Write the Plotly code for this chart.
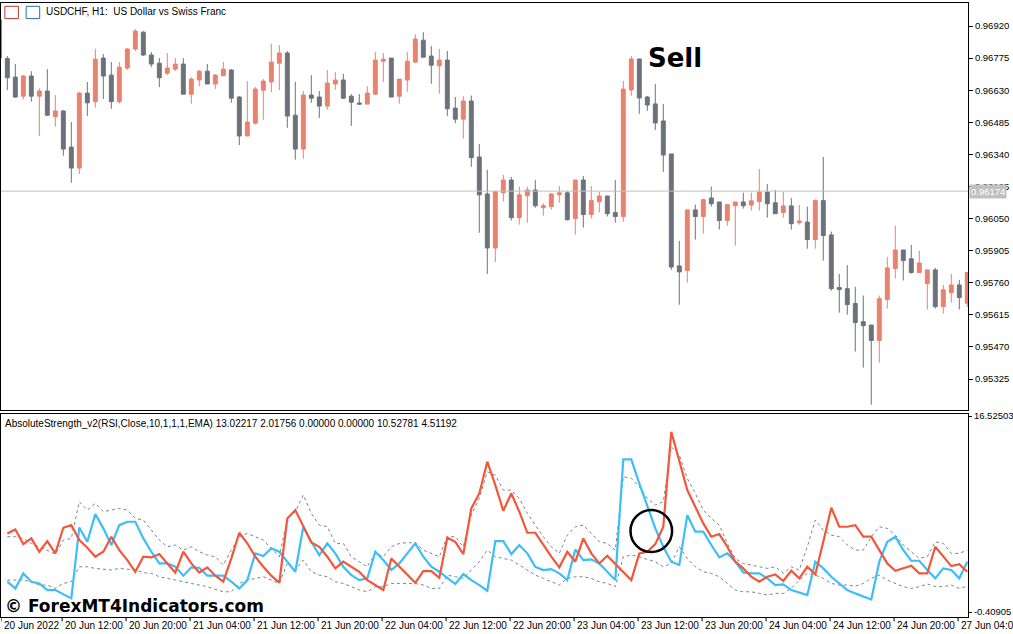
import plotly.graph_objects as go

# ---- price data (H1 candles), bar index -1 .. 120 ----
bar_index = list(range(-1, 121))
open_ = [0.96947,
 .96773,.96689,.96603,.96694,.96603,.96626,.96510,.96536,.96373,.96278,
 .96617,.96578,.96775,.96698,.96578,.96730,.96816,.96892,.96789,.96752,
 .96707,.96725,.96748,.96612,.96676,.96716,.96658,.96695,.96721,.96599,
 .96423,.96481,.96630,.96667,.96752,.96798,.96517,.96364,.96608,.96599,
 .96558,.96658,.96676,.96603,.96572,.96567,.96612,.96761,.96775,.96603,
 .96676,.96757,.96856,.96784,.96740,.96766,.96549,.96499,.96581,.96328,
 .96161,.95917,.96167,.96224,.96054,.96153,.96179,.96099,.96104,.96158,
 .96166,.96050,.96224,.96068,.96126,.96152,.96077,.96059,.96631,.96771,
 .96599,.96568,.96491,.96342,.95836,.95815,.96089,.96059,.96143,.96125,
 .96041,.96108,.96125,.96111,.96126,.96170,.96121,.96077,.96107,.96031,
 .96034,.95955,.96131,.95976,.95738,.95733,.95666,.95584,.95569,.95499,
 .95684,.95824,.95908,.95868,.95806,.95756,.95818,.95652,.95715,.95750,.95667]
high = [0.96960,
 .96784,.96748,.96698,.96716,.96638,.96725,.96608,.96540,.96486,.96621,
 .96667,.96817,.96793,.96757,.96757,.96820,.96906,.96897,.96802,.96775,
 .96798,.96775,.96775,.96689,.96721,.96748,.96703,.96757,.96725,.96603,
 .96671,.96644,.96680,.96840,.96834,.96807,.96668,.96626,.96698,.96626,
 .96721,.96712,.96704,.96612,.96612,.96648,.96802,.96798,.96775,.96680,
 .96802,.96883,.96892,.96829,.96817,.96807,.96599,.96603,.96606,.96387,
 .96270,.96175,.96247,.96238,.96194,.96194,.96224,.96119,.96164,.96197,
 .96173,.96224,.96242,.96197,.96170,.96152,.96224,.96672,.96784,.96771,
 .96604,.96658,.96568,.96342,.95949,.96089,.96113,.96140,.96194,.96125,
 .96113,.96125,.96167,.96167,.96274,.96206,.96179,.96170,.96143,.96111,
 .96104,.96137,.96328,.95991,.95800,.95840,.95742,.95702,.95569,.95702,
 .95877,.96018,.95908,.95931,.95905,.95818,.95827,.95750,.95800,.95773,.95806]
low = [0.96760,
 .96630,.96596,.96588,.96578,.96423,.96513,.96465,.96334,.96212,.96251,
 .96513,.96551,.96590,.96546,.96569,.96721,.96807,.96784,.96734,.96644,
 .96698,.96716,.96612,.96569,.96648,.96658,.96636,.96695,.96573,.96382,
 .96423,.96474,.96496,.96621,.96630,.96460,.96316,.96320,.96573,.96504,
 .96542,.96632,.96590,.96469,.96564,.96567,.96608,.96667,.96599,.96569,
 .96623,.96752,.96779,.96659,.96614,.96513,.96481,.96411,.96284,.95986,
 .95800,.95854,.96126,.96041,.96022,.96031,.96099,.96063,.96090,.96122,
 .96041,.95977,.96009,.96050,.96077,.96059,.96031,.96036,.96604,.96523,
 .96536,.96450,.96261,.95818,.95661,.95760,.95955,.95982,.96104,.96000,
 .96018,.95928,.96095,.96086,.96086,.96054,.96072,.96054,.96000,.96022,
 .95914,.95914,.95860,.95724,.95625,.95616,.95449,.95377,.95209,.95399,
 .95643,.95779,.95770,.95801,.95806,.95639,.95643,.95620,.95670,.95639,.95650]
close = [0.96775,
 .96686,.96599,.96694,.96603,.96626,.96517,.96536,.96364,.96278,.96617,
 .96573,.96770,.96694,.96578,.96734,.96816,.96897,.96789,.96748,.96686,
 .96730,.96748,.96612,.96680,.96716,.96658,.96698,.96725,.96594,.96423,
 .96486,.96635,.96671,.96757,.96798,.96513,.96364,.96608,.96594,.96558,
 .96662,.96676,.96594,.96576,.96567,.96617,.96766,.96770,.96599,.96680,
 .96761,.96861,.96779,.96743,.96766,.96546,.96499,.96581,.96325,.96157,
 .95917,.96172,.96224,.96054,.96157,.96179,.96108,.96108,.96161,.96166,
 .96045,.96224,.96068,.96131,.96152,.96072,.96059,.96635,.96771,.96595,
 .96563,.96482,.96337,.95831,.95809,.96089,.96059,.96135,.96117,.96041,
 .96113,.96125,.96108,.96130,.96170,.96117,.96072,.96107,.96027,.96039,
 .95955,.96131,.95973,.95733,.95729,.95661,.95580,.95566,.95499,.95688,
 .95827,.95908,.95860,.95806,.95849,.95818,.95652,.95728,.95750,.95693,.95806]

# ---- indicator data, bar index 0 .. 120 ----
ind_index = list(range(0, 121))
bulls = [6.38,6.73,5.46,5.95,4.80,5.72,4.66,6.87,7.10,5.81,5.15,4.37,4.80,6.10,4.94,4.08,3.07,4.37,4.31,4.60,3.79,2.99,4.80,3.79,3.01,3.45,2.73,2.21,4.22,6.44,5.52,4.37,3.50,2.73,2.12,7.68,8.40,6.96,5.61,5.23,4.37,3.36,
 3.94,3.50,3.07,2.35,1.92,1.49,4.22,3.50,2.78,2.12,3.13,3.13,2.55,6.01,5.66,4.60,8.54,9.84,12.58,10.56,8.34,9.84,8.26,6.44,6.44,5.38,4.37,3.45,4.80,3.94,5.95,4.66,3.79,4.45,3.73,3.07,2.35,4.66,4.80,5.46,6.96,15.17,
 12.72,10.13,8.69,7.25,6.10,6.33,5.23,3.94,3.36,2.64,2.21,2.64,2.84,2.27,3.16,2.50,3.50,2.84,5.66,8.60,6.96,6.96,7.10,6.10,6.10,5.00,3.79,3.16,3.36,3.59,2.93,2.93,5.23,4.37,3.56,3.73,3.07]
bears = [2.21,1.63,2.93,2.21,2.06,1.49,1.49,1.14,0.77,6.90,5.66,8.05,6.82,5.38,7.10,7.39,7.39,5.95,4.80,3.79,3.79,3.50,2.73,3.45,3.42,2.73,2.73,2.73,2.21,1.63,2.35,4.66,4.43,5.09,4.80,3.94,3.07,6.96,5.66,4.51,5.52,4.66,
 3.50,2.78,2.35,2.50,4.80,4.08,3.22,3.79,4.66,5.52,4.37,3.50,3.07,2.50,2.01,2.87,2.35,1.92,1.43,5.72,5.72,4.60,5.38,4.66,3.50,3.22,3.30,2.93,2.35,5.00,4.08,4.14,3.79,3.07,2.35,12.78,12.78,10.70,8.69,6.82,5.23,3.94,
 3.65,7.97,6.53,6.53,5.38,4.31,4.66,3.94,3.01,2.93,2.93,2.50,1.92,1.98,1.49,1.26,1.06,3.94,3.36,2.64,2.06,1.49,1.20,0.91,0.68,3.94,5.66,6.10,4.94,4.02,4.02,3.22,2.50,3.36,3.22,2.50,3.94]
upper = [6.10,6.10,5.95,5.52,5.23,4.94,4.60,5.81,5.95,9.12,8.40,8.98,8.26,8.40,8.54,8.40,7.68,7.54,6.67,5.81,5.23,5.38,4.94,5.23,4.80,4.51,4.37,3.65,4.94,6.10,6.38,6.10,5.81,5.09,4.37,7.68,8.26,9.70,8.11,7.10,6.96,5.52,
 5.52,4.37,3.94,3.50,4.66,4.37,5.23,5.52,5.58,5.58,4.94,4.66,4.37,6.10,6.10,5.23,7.97,9.41,11.71,11.42,10.13,10.13,9.41,8.11,7.10,6.10,5.23,4.66,6.24,6.96,7.10,6.38,5.66,5.52,4.94,11.28,11.14,10.42,9.41,8.83,9.12,13.87,
 13.15,11.14,9.84,8.40,7.68,7.10,5.52,4.22,3.79,3.65,3.50,3.36,3.50,2.93,3.50,3.22,5.23,7.54,6.67,6.24,6.10,5.38,4.94,4.94,6.10,6.96,6.82,6.24,5.38,4.80,4.22,4.37,5.66,5.52,4.66,4.66,4.94]
lower = [2.35,2.35,2.35,2.21,1.92,1.92,1.63,2.06,2.21,3.50,3.50,3.36,3.29,3.22,3.36,3.29,3.22,2.99,2.93,2.64,2.50,2.41,2.21,2.06,1.92,1.78,1.55,1.34,1.34,2.06,2.35,2.50,2.64,2.35,2.06,3.79,3.22,4.08,3.07,2.78,2.64,2.21,
 2.06,1.78,1.49,1.34,1.78,1.78,2.06,2.06,2.06,2.06,1.92,1.63,1.63,2.78,2.64,2.50,3.22,3.94,4.94,4.37,4.22,4.08,3.65,3.22,2.78,2.50,2.21,1.92,2.50,2.64,2.64,2.50,2.21,2.06,1.78,4.37,4.51,4.37,4.14,3.94,3.50,3.79,
 5.23,4.22,3.50,3.07,2.93,2.64,2.06,1.49,1.34,1.34,1.20,1.06,1.20,1.20,1.63,2.35,2.93,2.78,2.50,2.06,1.92,1.92,1.83,2.06,2.50,2.78,2.35,2.06,1.78,1.63,1.78,2.01,1.78,1.78,1.92,1.63,1.83]

price_ticks = [0.96920, 0.96775, 0.96630, 0.96485, 0.96340, 0.96195, 0.96050, 0.95905, 0.95760, 0.95615, 0.95470, 0.95325]
ind_ticks = [16.52503, -0.40905]
time_tick_bars = [-1, 7, 15, 23, 31, 39, 47, 55, 63, 71, 79, 87, 95, 103, 111, 119]
time_tick_labels = ["20 Jun 2022", "20 Jun 12:00", "20 Jun 20:00", "21 Jun 04:00", "21 Jun 12:00",
                    "21 Jun 20:00", "22 Jun 04:00", "22 Jun 12:00", "22 Jun 20:00", "23 Jun 04:00",
                    "23 Jun 12:00", "23 Jun 20:00", "24 Jun 04:00", "24 Jun 12:00", "24 Jun 20:00",
                    "27 Jun 04:00"]
current_price = 0.96174

UP = "#E8826F"
DN = "#6E7179"
FONT = "Liberation Sans"

fig = go.Figure()
fig.add_trace(go.Candlestick(
    x=bar_index, open=open_, high=high, low=low, close=close,
    increasing=dict(line=dict(color=UP, width=1), fillcolor=UP),
    decreasing=dict(line=dict(color=DN, width=1), fillcolor=DN),
    whiskerwidth=0, xaxis="x", yaxis="y", showlegend=False, hoverinfo="skip"))

for series, color, dash, width in [(upper, "#7D828C", "dot", 1), (lower, "#7D828C", "dot", 1),
                                    (bears, "#3DBEFA", "solid", 2.2), (bulls, "#F2573B", "solid", 2.2)]:
    fig.add_trace(go.Scatter(x=ind_index, y=series, mode="lines",
                             line=dict(color=color, width=width, dash=dash),
                             xaxis="x2", yaxis="y2", showlegend=False, hoverinfo="skip"))

xr = [-0.79, 120.09]
fig.update_layout(
    width=1013, height=634, margin=dict(l=1, r=45, t=2, b=17, autoexpand=False),
    paper_bgcolor="white", plot_bgcolor="white",
    font=dict(family=FONT, size=10, color="black"),
    xaxis=dict(domain=[0, 1], range=xr, showticklabels=False, showgrid=False, zeroline=False,
               rangeslider=dict(visible=False), showline=True, mirror=True, linecolor="black",
               anchor="y", fixedrange=True),
    yaxis=dict(domain=[0.3366, 0.9984], range=[0.95185, 0.97024], side="right",
               tickvals=price_ticks, ticktext=[f"{v:.5f}" for v in price_ticks],
               ticks="outside", ticklen=4, tickcolor="black", showgrid=False, zeroline=False,
               showline=True, mirror=True, linecolor="black", tickfont=dict(size=9.5)),
    xaxis2=dict(domain=[0, 1], range=xr, showticklabels=False, showgrid=False, zeroline=False,
                showline=True, mirror=True, linecolor="black", anchor="y2"),
    yaxis2=dict(domain=[0, 0.330], range=[-0.84, 16.70], side="right", anchor="x2",
                tickvals=ind_ticks, ticktext=[f"{v:.5f}" for v in ind_ticks],
                ticks="outside", ticklen=3, tickcolor="black", showgrid=False, zeroline=False,
                showline=True, mirror=True, linecolor="black", tickfont=dict(size=9.5)),
)

# current price line and label
fig.add_shape(type="line", xref="x domain", yref="y", x0=0, x1=1, y0=current_price, y1=current_price,
              line=dict(color="#C0C0C0", width=1))
fig.add_annotation(xref="paper", yref="y", x=1.0, y=current_price, xanchor="left", yanchor="middle",
                   text=f"{current_price:.5f}", showarrow=False, bgcolor="#C0C0C0",
                   font=dict(color="white", size=9.5), borderpad=1, xshift=1)

# time axis labels (left aligned after tick, MT style)
for b, lab in zip(time_tick_bars, time_tick_labels):
    xpos = b - 0.15 if b >= 0 else -0.79
    fig.add_shape(type="line", xref="x2", yref="paper", x0=xpos, x1=xpos, y0=0, y1=-0.007,
                  line=dict(color="black", width=1))
    fig.add_annotation(xref="x2", yref="paper", x=xpos, y=0, xanchor="left", yanchor="top",
                       text=lab, showarrow=False, xshift=1, yshift=-1, font=dict(size=10))

# titles
fig.add_shape(type="rect", xref="paper", yref="paper", x0=0.004, x1=0.018, y0=0.973, y1=0.993,
              line=dict(color="#C0392B", width=1), fillcolor="white")
fig.add_shape(type="rect", xref="paper", yref="paper", x0=0.026, x1=0.040, y0=0.973, y1=0.993,
              line=dict(color="#2E6DB4", width=1), fillcolor="white")
fig.add_annotation(xref="paper", yref="paper", x=0.044, y=0.997, xanchor="left", yanchor="top",
                   text="USDCHF, H1:  US Dollar vs Swiss Franc", showarrow=False, font=dict(size=10))
fig.add_annotation(xref="paper", yref="paper", x=0.002, y=0.330, xanchor="left", yanchor="top",
                   text="AbsoluteStrength_v2(RSI,Close,10,1,1,1,EMA) 13.02217 2.01756 0.00000 0.00000 10.52781 4.51192",
                   showarrow=False, font=dict(size=10), yshift=-2)
fig.add_annotation(xref="x", yref="y", x=79.8, y=0.96775, xanchor="left", yanchor="middle",
                   text="<b>Sell</b>", showarrow=False, font=dict(family="DejaVu Sans", size=26, color="black"))
fig.add_annotation(xref="paper", yref="paper", x=0.002, y=0.0, xanchor="left", yanchor="bottom",
                   text="<b>© ForexMT4Indicators.com</b>", showarrow=False,
                   font=dict(family="DejaVu Sans", size=17, color="black"), yshift=-1)

# highlight circle
fig.add_shape(type="circle", xref="x2", yref="y2", x0=77.9, x1=83.1, y0=4.78, y1=8.40,
              line=dict(color="black", width=2.5))

fig.write_html("out.html", config={"displayModeBar": False},
               post_script="document.body.style.margin='0';document.body.style.overflow='hidden';")
